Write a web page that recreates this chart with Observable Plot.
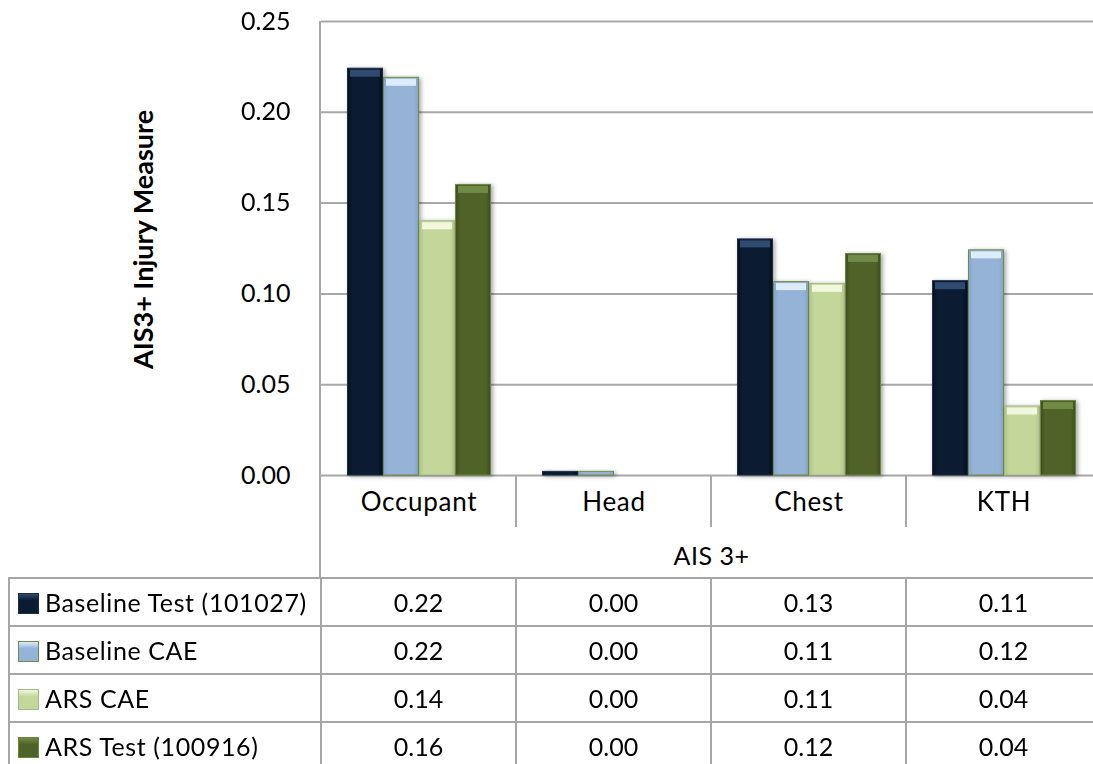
<!DOCTYPE html>
<html>
<head>
<meta charset="utf-8">
<script src="https://cdn.jsdelivr.net/npm/d3@7"></script>
<script src="https://cdn.jsdelivr.net/npm/@observablehq/plot@0.6"></script>
<style>
  html, body { margin: 0; padding: 0; background: #fff; overflow: hidden; }
  #wrap { position: relative; width: 1093px; height: 764px; overflow: hidden; font-family: Lato, "Open Sans", sans-serif; }
  #wrap svg { position: absolute; left: 0; top: 0; max-width: none !important; }
  table.dt { position: absolute; left: 8px; border-collapse: collapse; font-family: Lato, sans-serif; font-size: 25px; color: #000; table-layout: fixed; }
  table.dt td { border: 2px solid #a6a6a6; height: 46px; padding: 0; text-align: center; vertical-align: middle; white-space: nowrap; }
  table.dt td.lab { text-align: left; padding-left: 8px; letter-spacing: 0.6px; }
  .sw { display: inline-block; width: 21px; height: 21px; vertical-align: -2px; margin-right: 6px; box-sizing: border-box; }
</style>
</head>
<body>
<div id="wrap"></div>
<script>
// ---- data ----
const categories = ["Occupant", "Head", "Chest", "KTH"];
const seriesNames = ["Baseline Test (101027)", "Baseline CAE", "ARS CAE", "ARS Test (100916)"];
const baselineTest = [0.224, 0.002, 0.130, 0.107];
const baselineCAE  = [0.219, 0.002, 0.1065, 0.124];
const arsCAE       = [0.140, 0.000, 0.1055, 0.038];
const arsTest      = [0.160, 0.000, 0.122, 0.041];
const yTicks = [0, 0.05, 0.10, 0.15, 0.20, 0.25];
const yTitle = "AIS3+ Injury Measure";
const groupTitle = "AIS 3+";

// ---- styles ----
const base   = ["#0b1b31", "#95b3d7", "#c4d79b", "#4f6228"];
const edge   = ["#06101e", "#86a4c9", "#b2c689", "#3e4e1e"];
const outline= ["#1d2d45", "#6f8c46", "#a7b98a", "#6a863e"];
const cap    = ["#2f4b70", "#dcecfa", "#f0f7de", "#6f8b46"];

const seriesValues = [baselineTest, baselineCAE, arsCAE, arsTest];
const rows = [];
seriesNames.forEach((s, i) => categories.forEach((c, j) => rows.push({series: s, si: i, category: c, value: seriesValues[i][j]})));

const W = 1102, H = 578;
const marks = [
  Plot.gridY(yTicks, {stroke: "#a8a8a8", strokeOpacity: 1, strokeWidth: 2}),
];
seriesNames.forEach((s, i) => {
  const d = rows.filter(r => r.si === i);
  marks.push(Plot.barY(d, {fx: "category", x: "series", y: "value", fill: `url(#bargrad${i})`, stroke: outline[i], strokeWidth: 1, insetLeft: 0.5, insetRight: 0.5}));
  marks.push(Plot.tickY(d.filter(r => r.value > 0.01), {fx: "category", x: "series", y: "value", stroke: cap[i], strokeWidth: 7, dy: 4.5, insetLeft: 3, insetRight: 3}));
});
marks.push(Plot.axisY({ticks: yTicks, tickFormat: d3.format(".2f"), tickSize: 0, tickPadding: 31, label: yTitle, labelAnchor: "center", labelOffset: 188, facetAnchor: "left"}));
marks.push(Plot.axisFx({anchor: "bottom", tickSize: 0, tickPadding: 17, label: groupTitle, labelAnchor: "center", labelOffset: 89}));

const chart = Plot.plot({
  width: W, height: H,
  marginLeft: 320, marginRight: 0, marginTop: 21, marginBottom: H - 475,
  style: {fontFamily: "Lato, sans-serif", fontSize: "25px", color: "#000", background: "transparent", overflow: "visible"},
  fx: {domain: categories, padding: 0},
  x: {domain: seriesNames, paddingInner: 0, paddingOuter: 0.7, axis: null},
  y: {domain: [0, 0.25], axis: null},
  marks
});

// gradients for bevelled bars
const svg = d3.select(chart);
svg.style("max-width", "none");
const defs = svg.insert("defs", ":first-child");
base.forEach((b, i) => {
  const g = defs.append("linearGradient").attr("id", `bargrad${i}`).attr("x1", 0).attr("x2", 1).attr("y1", 0).attr("y2", 0);
  g.append("stop").attr("offset", "0%").attr("stop-color", edge[i]);
  g.append("stop").attr("offset", "14%").attr("stop-color", b);
  g.append("stop").attr("offset", "86%").attr("stop-color", b);
  g.append("stop").attr("offset", "100%").attr("stop-color", edge[i]);
});
svg.selectAll('g[aria-label="bar"]').style("filter", "drop-shadow(2px 1px 2px rgba(0,0,0,0.35))");
svg.selectAll('g[aria-label="y-axis label"] text').text(yTitle).attr("font-weight", "bold").attr("font-size", 27).attr("dx", 9);
svg.selectAll('g[aria-label="fx-axis tick label"] text').attr("font-size", 26).attr("letter-spacing", 0.7);
svg.selectAll('g[aria-label="fx-axis label"] text').attr("letter-spacing", 0.5);

// axis frame lines from the scales
const fx = chart.scale("fx"), y = chart.scale("y");
const x0 = fx.range[0];
const yTop = y.apply(0.25), yBot = y.apply(0);
svg.append("line").attr("x1", x0).attr("x2", x0).attr("y1", yTop).attr("y2", H).attr("stroke", "#a8a8a8").attr("stroke-width", 2);
categories.slice(1).forEach(c => {
  const xx = fx.apply(c);
  svg.append("line").attr("x1", xx).attr("x2", xx).attr("y1", yBot).attr("y2", yBot + 52).attr("stroke", "#a8a8a8").attr("stroke-width", 2);
});

const wrap = document.getElementById("wrap");
wrap.appendChild(chart);

// data table below the chart
const table = document.createElement("table");
table.className = "dt";
table.style.top = (H - 1) + "px";
table.style.width = (fx.range[1] - 8) + "px";
const cg = document.createElement("colgroup");
const c0 = document.createElement("col"); c0.style.width = (x0 - 8) + "px"; cg.appendChild(c0);
categories.forEach(() => { const c = document.createElement("col"); c.style.width = fx.bandwidth + "px"; cg.appendChild(c); });
table.appendChild(cg);
seriesNames.forEach((s, i) => {
  const tr = document.createElement("tr");
  const td = document.createElement("td");
  td.className = "lab";
  const sw = document.createElement("span");
  sw.className = "sw";
  sw.style.background = `linear-gradient(to bottom, ${cap[i]} 0%, ${base[i]} 35%, ${base[i]} 100%)`;
  sw.style.border = `1px solid ${outline[i]}`;
  td.appendChild(sw);
  td.appendChild(document.createTextNode(s));
  tr.appendChild(td);
  seriesValues[i].forEach(v => {
    const t = document.createElement("td");
    t.textContent = v.toFixed(2);
    tr.appendChild(t);
  });
  table.appendChild(tr);
});
wrap.appendChild(table);
</script>
</body>
</html>
